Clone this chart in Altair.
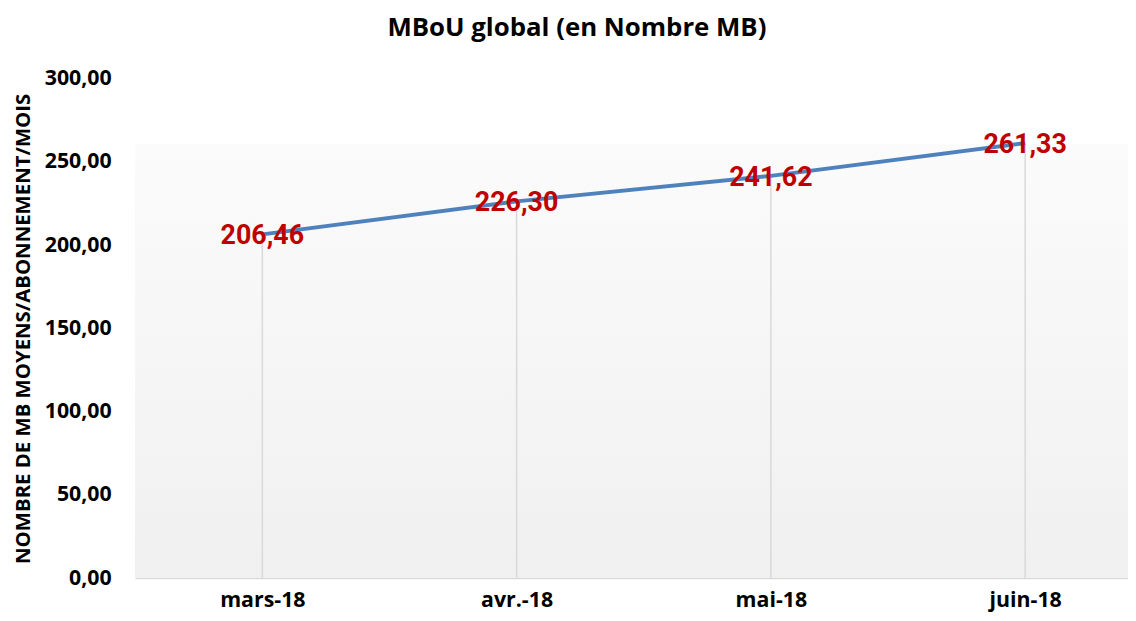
import altair as alt
import pandas as pd

months = ["mars-18", "avr.-18", "mai-18", "juin-18"]
values = [206.46, 226.30, 241.62, 261.33]
y_ticks = [0, 50, 100, 150, 200, 250, 300]

df = pd.DataFrame({"mois": months, "valeur": values})

FONT = "Open Sans"
W, H = 1000, 503

x_enc = alt.X(
    "mois:N",
    sort=months,
    scale=alt.Scale(type="point", padding=0.4525, align=0.553),
    axis=alt.Axis(
        title=None,
        labelFont=FONT,
        labelFontSize=21.5,
        labelFontWeight="bold",
        labelColor="#000000",
        labelPadding=12,
        ticks=False,
        domain=True,
        domainColor="#D9D9D9",
        domainWidth=1.5,
        grid=False,
        labelAngle=0,
    ),
)
y_scale = alt.Scale(domain=[0, 300], nice=False, zero=True)
y_enc = alt.Y(
    "valeur:Q",
    scale=y_scale,
    axis=alt.Axis(
        values=y_ticks,
        title="NOMBRE DE MB MOYENS/ABONNEMENT/MOIS",
        titleFont=FONT,
        titleFontSize=20.5,
        titleFontWeight="bold",
        titleColor="#000000",
        titleAngle=270,
        titleAlign="center",
        titleBaseline="middle",
        titleX=-112,
        titleY=H / 2,
        labelFont=FONT,
        labelFontSize=21.5,
        labelFontWeight="bold",
        labelColor="#000000",
        labelPadding=24,
        labelExpr="replace(format(datum.value, '.2f'), '.', ',')",
        ticks=False,
        domain=False,
        grid=False,
    ),
)

base = alt.Chart(df)

background = base.mark_rect(
    fill=alt.Gradient(
        gradient="linear",
        stops=[
            alt.GradientStop(color="#FBFBFB", offset=0),
            alt.GradientStop(color="#F0F0F0", offset=1),
        ],
        x1=0, x2=0, y1=0, y2=1,
    )
).encode(
    x=alt.value(0), x2=alt.value(W), y=alt.value(66), y2=alt.value(H)
)

drops = base.mark_rule(color="#D9D9D9", strokeWidth=1.5).encode(
    x=x_enc, y=y_enc, y2=alt.datum(0)
)

line = base.mark_line(color="#4F81BD", strokeWidth=4).encode(x=x_enc, y=y_enc)

labels = base.transform_calculate(
    lab="replace(format(datum.valeur, '.2f'), '.', ',')"
).mark_text(
    font="Roboto",
    fontSize=27,
    fontWeight="bold",
    color="#C00000",
    align="center",
    baseline="middle",
    dy=2,
).encode(x=x_enc, y=y_enc, text="lab:N")

chart = (
    alt.layer(background, drops, line, labels)
    .properties(
        width=W,
        height=H,
        background="#FFFFFF",
        title=alt.TitleParams(
            "MBoU global (en Nombre MB)",
            font=FONT,
            fontSize=26,
            fontWeight="bold",
            color="#000000",
            anchor="middle",
            dx=-55,
            baseline="alphabetic",
            offset=6,
        ),
        autosize=alt.AutoSizeParams(type="none"),
        padding={"left": 128, "top": 69, "right": 0, "bottom": 33},
    )
    .configure_view(strokeWidth=0, stroke="transparent")
)

chart.save("out.html", embed_options={"renderer": "svg", "actions": False})
